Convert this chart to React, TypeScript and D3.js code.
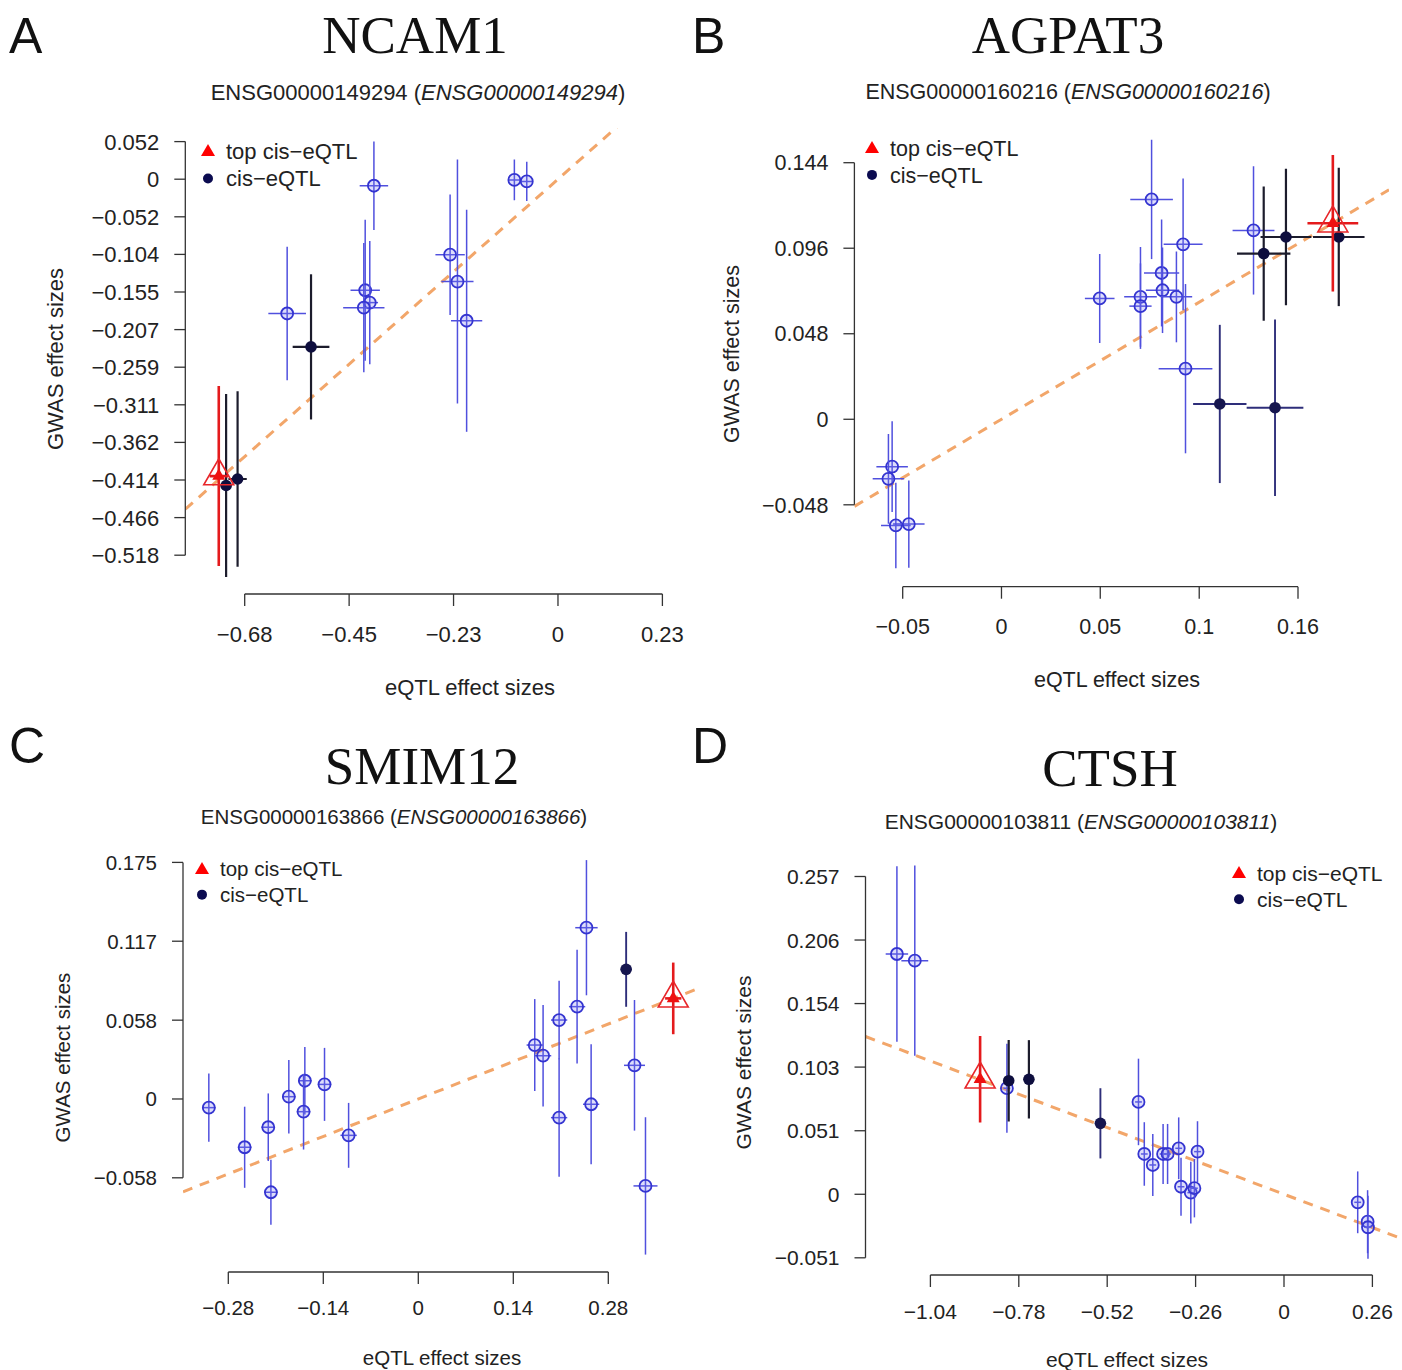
import * as d3 from 'd3'

type Kind = 'blue' | 'mid' | 'navy' | 'top'
type Pt = { x: number; xe: number; y: number; ye: number; k: Kind }

// eQTL (x) vs GWAS (y) effect sizes, half-widths of the error bars in xe / ye
const ncamPoints: Pt[] = [
  { x: -0.59, xe: 0.041, y: -0.185, ye: 0.092, k: 'blue' },
  { x: -0.401, xe: 0.031, y: -0.009, ye: 0.061, k: 'blue' },
  { x: -0.42, xe: 0.032, y: -0.153, ye: 0.097, k: 'blue' },
  { x: -0.41, xe: 0.018, y: -0.17, ye: 0.085, k: 'blue' },
  { x: -0.423, xe: 0.045, y: -0.177, ye: 0.089, k: 'blue' },
  { x: -0.235, xe: 0.032, y: -0.104, ye: 0.083, k: 'blue' },
  { x: -0.219, xe: 0.035, y: -0.141, ye: 0.168, k: 'blue' },
  { x: -0.199, xe: 0.034, y: -0.195, ye: 0.153, k: 'blue' },
  { x: -0.095, xe: 0.012, y: -0.001, ye: 0.028, k: 'blue' },
  { x: -0.068, xe: 0.012, y: -0.003, ye: 0.027, k: 'blue' },
  { x: -0.538, xe: 0.04, y: -0.231, ye: 0.1, k: 'navy' },
  { x: -0.723, xe: 0.012, y: -0.422, ye: 0.126, k: 'navy' },
  { x: -0.698, xe: 0.02, y: -0.413, ye: 0.121, k: 'navy' },
  { x: -0.739, xe: 0.02, y: -0.409, ye: 0.124, k: 'top' },
]

const agpatPoints: Pt[] = [
  { x: -0.059, xe: 0.0085, y: -0.0266, ye: 0.0255, k: 'blue' },
  { x: -0.061, xe: 0.0085, y: -0.0334, ye: 0.0252, k: 'blue' },
  { x: -0.057, xe: 0.008, y: -0.0596, ye: 0.024, k: 'blue' },
  { x: -0.05, xe: 0.0085, y: -0.0588, ye: 0.0245, k: 'blue' },
  { x: 0.053, xe: 0.008, y: 0.0678, ye: 0.025, k: 'blue' },
  { x: 0.075, xe: 0.0088, y: 0.0687, ye: 0.028, k: 'blue' },
  { x: 0.075, xe: 0.006, y: 0.0635, ye: 0.024, k: 'blue' },
  { x: 0.081, xe: 0.0115, y: 0.1234, ye: 0.0335, k: 'blue' },
  { x: 0.0864, xe: 0.0095, y: 0.0821, ye: 0.03, k: 'blue' },
  { x: 0.0869, xe: 0.009, y: 0.0724, ye: 0.024, k: 'blue' },
  { x: 0.0944, xe: 0.0085, y: 0.0687, ye: 0.0255, k: 'blue' },
  { x: 0.098, xe: 0.0105, y: 0.0982, ye: 0.037, k: 'blue' },
  { x: 0.0993, xe: 0.0145, y: 0.0284, ye: 0.0475, k: 'blue' },
  { x: 0.136, xe: 0.0113, y: 0.106, ye: 0.036, k: 'blue' },
  { x: 0.1178, xe: 0.0144, y: 0.0086, ye: 0.0444, k: 'mid' },
  { x: 0.1476, xe: 0.0153, y: 0.0065, ye: 0.0495, k: 'mid' },
  { x: 0.1415, xe: 0.0144, y: 0.093, ye: 0.0377, k: 'navy' },
  { x: 0.1535, xe: 0.0137, y: 0.1023, ye: 0.0383, k: 'navy' },
  { x: 0.182, xe: 0.0139, y: 0.1023, ye: 0.0388, k: 'navy' },
  { x: 0.1788, xe: 0.0137, y: 0.11, ye: 0.0383, k: 'top' },
]

const smimPoints: Pt[] = [
  { x: -0.3087, xe: 0.01, y: -0.0064, ye: 0.0253, k: 'blue' },
  { x: -0.2559, xe: 0.01, y: -0.0357, ye: 0.03, k: 'blue' },
  { x: -0.2211, xe: 0.01, y: -0.0209, ye: 0.025, k: 'blue' },
  { x: -0.2172, xe: 0.01, y: -0.069, ye: 0.024, k: 'blue' },
  { x: -0.1908, xe: 0.01, y: 0.0017, ye: 0.0272, k: 'blue' },
  { x: -0.1672, xe: 0.01, y: 0.0135, ye: 0.025, k: 'blue' },
  { x: -0.1691, xe: 0.01, y: -0.0094, ye: 0.028, k: 'blue' },
  { x: -0.1382, xe: 0.01, y: 0.0108, ye: 0.027, k: 'blue' },
  { x: -0.1027, xe: 0.012, y: -0.0269, ye: 0.024, k: 'blue' },
  { x: 0.1716, xe: 0.012, y: 0.0399, ye: 0.034, k: 'blue' },
  { x: 0.1839, xe: 0.012, y: 0.032, ye: 0.0375, k: 'blue' },
  { x: 0.2075, xe: 0.012, y: 0.0584, ye: 0.029, k: 'blue' },
  { x: 0.2075, xe: 0.012, y: -0.0138, ye: 0.0437, k: 'blue' },
  { x: 0.234, xe: 0.012, y: 0.0683, ye: 0.042, k: 'blue' },
  { x: 0.2478, xe: 0.0165, y: 0.1267, ye: 0.05, k: 'blue' },
  { x: 0.2547, xe: 0.012, y: -0.0039, ye: 0.0444, k: 'blue' },
  { x: 0.3186, xe: 0.0155, y: 0.0249, ye: 0.0483, k: 'blue' },
  { x: 0.3348, xe: 0.0177, y: -0.0643, ye: 0.0508, k: 'blue' },
  { x: 0.3063, xe: 0.008, y: 0.0959, ye: 0.0277, k: 'mid' },
  { x: 0.3757, xe: 0.012, y: 0.0744, ye: 0.0265, k: 'top' },
]

const ctshPoints: Pt[] = [
  { x: -1.1385, xe: 0.033, y: 0.1944, ye: 0.0709, k: 'blue' },
  { x: -1.0859, xe: 0.0395, y: 0.189, ye: 0.077, k: 'blue' },
  { x: -0.815, xe: 0.01, y: 0.0858, ye: 0.036, k: 'blue' },
  { x: -0.428, xe: 0.01, y: 0.0747, ye: 0.035, k: 'blue' },
  { x: -0.4109, xe: 0.01, y: 0.0326, ye: 0.0257, k: 'blue' },
  { x: -0.3859, xe: 0.01, y: 0.0237, ye: 0.025, k: 'blue' },
  { x: -0.3556, xe: 0.01, y: 0.0326, ye: 0.0243, k: 'blue' },
  { x: -0.3424, xe: 0.01, y: 0.0326, ye: 0.0243, k: 'blue' },
  { x: -0.3097, xe: 0.01, y: 0.0372, ye: 0.025, k: 'blue' },
  { x: -0.3029, xe: 0.01, y: 0.0061, ye: 0.0235, k: 'blue' },
  { x: -0.2741, xe: 0.01, y: 0.0013, ye: 0.025, k: 'blue' },
  { x: -0.2635, xe: 0.01, y: 0.0049, ye: 0.0236, k: 'blue' },
  { x: -0.2544, xe: 0.01, y: 0.0345, ye: 0.0246, k: 'blue' },
  { x: 0.2168, xe: 0.01, y: -0.0065, ye: 0.025, k: 'blue' },
  { x: 0.2459, xe: 0.01, y: -0.0222, ye: 0.0255, k: 'blue' },
  { x: 0.247, xe: 0.01, y: -0.0267, ye: 0.0255, k: 'blue' },
  { x: -0.54, xe: 0.01, y: 0.0574, ye: 0.0284, k: 'mid' },
  { x: -0.8097, xe: 0.01, y: 0.0919, ye: 0.033, k: 'navy' },
  { x: -0.7503, xe: 0.01, y: 0.093, ye: 0.0317, k: 'navy' },
  { x: -0.8938, xe: 0.012, y: 0.093, ye: 0.035, k: 'top' },
]

// fitted slopes (lines through the origin)
const slopes = { ncam: 0.56, agpat: 0.616, smim: 0.198, ctsh: -0.1037 }

const ncamXTicks = [-0.6825, -0.455, -0.2275, 0, 0.2275]
const ncamXLabels = ['−0.68', '−0.45', '−0.23', '0', '0.23']
const ncamYTicks = [0.0518, 0, -0.0518, -0.1036, -0.1554, -0.2072, -0.259, -0.3108, -0.3626, -0.4144, -0.4662, -0.518]
const ncamYLabels = ['0.052', '0', '−0.052', '−0.104', '−0.155', '−0.207', '−0.259', '−0.311', '−0.362', '−0.414', '−0.466', '−0.518']

const agpatXTicks = [-0.0533, 0, 0.0533, 0.1067, 0.16]
const agpatXLabels = ['−0.05', '0', '0.05', '0.1', '0.16']
const agpatYTicks = [0.144, 0.096, 0.048, 0, -0.048]
const agpatYLabels = ['0.144', '0.096', '0.048', '0', '−0.048']

const smimXTicks = [-0.28, -0.14, 0, 0.14, 0.28]
const smimXLabels = ['−0.28', '−0.14', '0', '0.14', '0.28']
const smimYTicks = [0.175, 0.1167, 0.0583, 0, -0.0583]
const smimYLabels = ['0.175', '0.117', '0.058', '0', '−0.058']

const ctshXTicks = [-1.04, -0.78, -0.52, -0.26, 0, 0.26]
const ctshXLabels = ['−1.04', '−0.78', '−0.52', '−0.26', '0', '0.26']
const ctshYTicks = [0.2571, 0.2057, 0.1543, 0.1029, 0.0514, 0, -0.0514]
const ctshYLabels = ['0.257', '0.206', '0.154', '0.103', '0.051', '0', '−0.051']

const SANS = '"Liberation Sans", Arial, Helvetica, sans-serif'
const SERIF = '"Liberation Serif", "Times New Roman", serif'

const MARK: Record<Kind, { bar: string; bw: number; fill: string }> = {
  blue: { bar: '#5050de', bw: 1.5, fill: 'rgba(120,120,240,0.25)' },
  mid: { bar: '#2e2e7a', bw: 1.9, fill: '#16164f' },
  navy: { bar: '#1c1c2c', bw: 2.2, fill: '#0e0e3e' },
  top: { bar: '#e41a1c', bw: 2.6, fill: '#ee1111' },
}
const ORDER: Kind[] = ['blue', 'mid', 'navy', 'top']

function tri(cx: number, cy: number, side: number) {
  const h = (side * Math.sqrt(3)) / 2
  return `M${cx},${cy - (2 * h) / 3}L${cx + side / 2},${cy + h / 3}L${cx - side / 2},${cy + h / 3}Z`
}

type PanelCfg = {
  id: string
  letter: string
  letterX: number
  letterY: number
  gene: string
  ensg: string
  titleX: number
  titleY: number
  subX: number
  subY: number
  fs: number
  points: Pt[]
  slope: number
  xTicks: number[]
  xLabels: string[]
  yTicks: number[]
  yLabels: string[]
  xRange: [number, number]
  yRange: [number, number]
  box: { l: number; r: number; t: number; b: number }
  xLabY: number
  xTitle: [number, number]
  yTitle: [number, number]
  legend: [number, number]
}

function Panel({ c }: { c: PanelCfg }) {
  const x = d3.scaleLinear().domain([c.xTicks[0], c.xTicks[c.xTicks.length - 1]]).range(c.xRange)
  const y = d3.scaleLinear().domain([c.yTicks[0], c.yTicks[c.yTicks.length - 1]]).range(c.yRange)
  const { l, r, t, b } = c.box
  const x0 = x.invert(l)
  const x1 = x.invert(r)
  const fit = d3.line<number>().x((v) => x(v)).y((v) => y(v * c.slope))([x0, x1]) || ''
  const sorted = ORDER.flatMap((k) => c.points.filter((p) => p.k === k))
  const fs = c.fs
  return (
    <g>
      <defs>
        <clipPath id={`clip-${c.id}`}>
          <rect x={l} y={t} width={r - l} height={b - t} />
        </clipPath>
      </defs>
      <text x={c.letterX} y={c.letterY} fontFamily={SANS} fontSize={50} fill="#111">{c.letter}</text>
      <text x={c.titleX} y={c.titleY} textAnchor="middle" fontFamily={SERIF} fontSize={53} fill="#111">{c.gene}</text>
      <text x={c.subX} y={c.subY} textAnchor="middle" fontFamily={SANS} fontSize={fs} fill="#222">
        {c.ensg} (<tspan fontStyle="italic">{c.ensg}</tspan>)
      </text>

      <g clipPath={`url(#clip-${c.id})`}>
        <path d={fit} fill="none" stroke="#f2a66a" strokeWidth={3} strokeDasharray="10,8" />
        {sorted.map((p, i) => {
          const m = MARK[p.k]
          return (
            <g key={i}>
              <line x1={x(p.x)} x2={x(p.x)} y1={y(p.y - p.ye)} y2={y(p.y + p.ye)} stroke={m.bar} strokeWidth={m.bw} />
              <line x1={x(p.x - p.xe)} x2={x(p.x + p.xe)} y1={y(p.y)} y2={y(p.y)} stroke={m.bar} strokeWidth={m.bw} />
              {p.k === 'top' ? (
                <g>
                  <path d={tri(x(p.x), y(p.y), 30)} fill="none" stroke="#e8262a" strokeWidth={1.6} />
                  <path d={tri(x(p.x), y(p.y), 13)} fill={m.fill} />
                </g>
              ) : p.k === 'blue' ? (
                <circle cx={x(p.x)} cy={y(p.y)} r={6} fill={m.fill} stroke="#3434d0" strokeWidth={1.8} />
              ) : (
                <circle cx={x(p.x)} cy={y(p.y)} r={5.8} fill={m.fill} />
              )}
            </g>
          )
        })}
      </g>

      {/* y axis */}
      <line x1={l} x2={l} y1={y(c.yTicks[0])} y2={y(c.yTicks[c.yTicks.length - 1])} stroke="#333" strokeWidth={1.3} />
      {c.yTicks.map((v, i) => (
        <g key={i}>
          <line x1={l - 11} x2={l} y1={y(v)} y2={y(v)} stroke="#333" strokeWidth={1.3} />
          <text x={l - 26} y={y(v)} dy="0.36em" textAnchor="end" fontFamily={SANS} fontSize={fs} fill="#222">{c.yLabels[i]}</text>
        </g>
      ))}
      {/* x axis */}
      <line x1={x(c.xTicks[0])} x2={x(c.xTicks[c.xTicks.length - 1])} y1={b} y2={b} stroke="#333" strokeWidth={1.3} />
      {c.xTicks.map((v, i) => (
        <g key={i}>
          <line x1={x(v)} x2={x(v)} y1={b} y2={b + 12} stroke="#333" strokeWidth={1.3} />
          <text x={x(v)} y={c.xLabY} dy="0.36em" textAnchor="middle" fontFamily={SANS} fontSize={fs} fill="#222">{c.xLabels[i]}</text>
        </g>
      ))}
      <text x={c.xTitle[0]} y={c.xTitle[1]} dy="0.36em" textAnchor="middle" fontFamily={SANS} fontSize={fs} fill="#222">eQTL effect sizes</text>
      <text transform={`translate(${c.yTitle[0]},${c.yTitle[1]}) rotate(-90)`} dy="0.36em" textAnchor="middle" fontFamily={SANS} fontSize={fs} fill="#222">GWAS effect sizes</text>

      {/* legend */}
      <path d={tri(c.legend[0], c.legend[1] + 1, 14)} fill="#ff0000" />
      <text x={c.legend[0] + 18} y={c.legend[1]} dy="0.36em" fontFamily={SANS} fontSize={fs} fill="#222">top cis−eQTL</text>
      <circle cx={c.legend[0]} cy={c.legend[1] + fs * 1.25} r={5} fill="#0b0b50" />
      <text x={c.legend[0] + 18} y={c.legend[1] + fs * 1.25} dy="0.36em" fontFamily={SANS} fontSize={fs} fill="#222">cis−eQTL</text>
    </g>
  )
}

const panels: PanelCfg[] = [
  {
    id: 'a', letter: 'A', letterX: 9, letterY: 53, gene: 'NCAM1', ensg: 'ENSG00000149294',
    titleX: 415, titleY: 53, subX: 418, subY: 100, fs: 22,
    points: ncamPoints, slope: slopes.ncam,
    xTicks: ncamXTicks, xLabels: ncamXLabels, yTicks: ncamYTicks, yLabels: ncamYLabels,
    xRange: [244.7, 662.4], yRange: [141.6, 555.2],
    box: { l: 185.3, r: 680, t: 128, b: 594 },
    xLabY: 634, xTitle: [470, 687], yTitle: [55, 359], legend: [208, 151],
  },
  {
    id: 'b', letter: 'B', letterX: 692, letterY: 53, gene: 'AGPAT3', ensg: 'ENSG00000160216',
    titleX: 1068, titleY: 53, subX: 1068, subY: 99, fs: 21.5,
    points: agpatPoints, slope: slopes.agpat,
    xTicks: agpatXTicks, xLabels: agpatXLabels, yTicks: agpatYTicks, yLabels: agpatYLabels,
    xRange: [902.7, 1298], yRange: [162.7, 504.8],
    box: { l: 854.4, r: 1389, t: 137, b: 586.7 },
    xLabY: 626.5, xTitle: [1117, 679], yTitle: [731, 354], legend: [872, 148],
  },
  {
    id: 'c', letter: 'C', letterX: 9, letterY: 763, gene: 'SMIM12', ensg: 'ENSG00000163866',
    titleX: 422, titleY: 784, subX: 394, subY: 824, fs: 20.5,
    points: smimPoints, slope: slopes.smim,
    xTicks: smimXTicks, xLabels: smimXLabels, yTicks: smimYTicks, yLabels: smimYLabels,
    xRange: [228.3, 608.3], yRange: [862.4, 1177.8],
    box: { l: 183, r: 700, t: 856, b: 1272 },
    xLabY: 1308, xTitle: [442, 1357.5], yTitle: [62.5, 1057.5], legend: [202, 869],
  },
  {
    id: 'd', letter: 'D', letterX: 692, letterY: 763, gene: 'CTSH', ensg: 'ENSG00000103811',
    titleX: 1110, titleY: 786, subX: 1081, subY: 829, fs: 21,
    points: ctshPoints, slope: slopes.ctsh,
    xTicks: ctshXTicks, xLabels: ctshXLabels, yTicks: ctshYTicks, yLabels: ctshYLabels,
    xRange: [930.4, 1372.4], yRange: [876.5, 1257.8],
    box: { l: 865.5, r: 1402, t: 865, b: 1275 },
    xLabY: 1311, xTitle: [1127, 1359], yTitle: [743.5, 1062.5], legend: [1239, 873],
  },
]

export default function App() {
  return (
    <svg width={1402} height={1370} style={{ position: 'absolute', left: 0, top: 0, background: '#fff' }}>
      <rect width={1402} height={1370} fill="#fff" />
      {panels.map((p) => (
        <Panel key={p.id} c={p} />
      ))}
    </svg>
  )
}
